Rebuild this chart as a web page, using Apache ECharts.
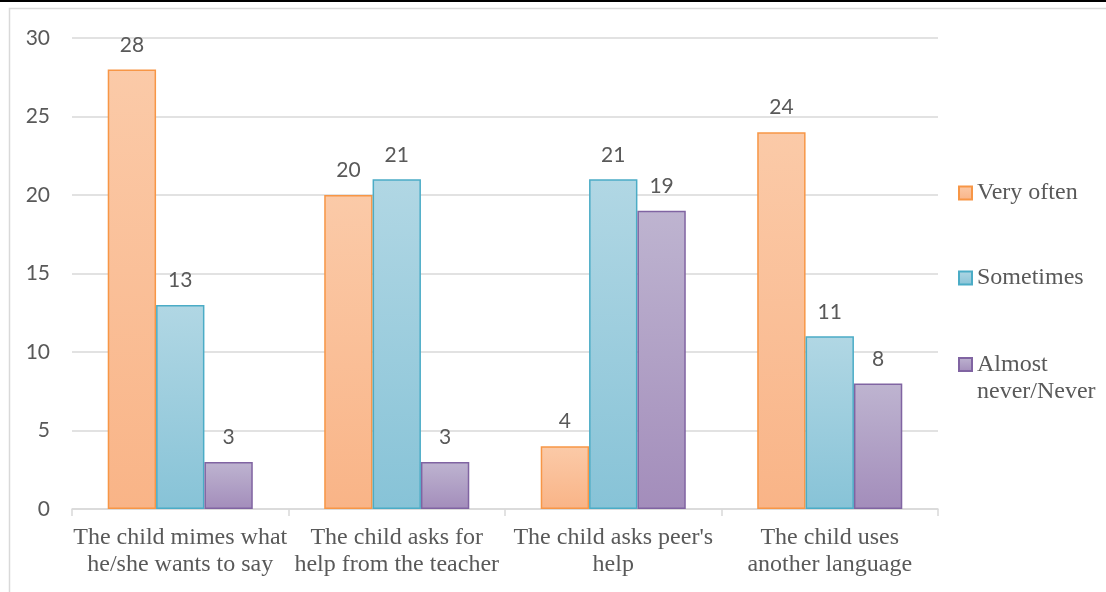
<!DOCTYPE html>
<html>
<head>
<meta charset="utf-8">
<script src="https://cdn.jsdelivr.net/npm/echarts@6/dist/echarts.min.js"></script>
<style>
  html, body { margin: 0; padding: 0; background: #ffffff; }
  #chart { width: 1106px; height: 592px; }
</style>
</head>
<body>
<div id="chart"></div>
<script>
// Categories (x axis), two-line labels
const categories = [
  "The child mimes what\nhe/she wants to say",
  "The child asks for\nhelp from the teacher",
  "The child asks peer's\nhelp",
  "The child uses\nanother language"
];

// Responses per category
const veryOften = [28, 20, 4, 24];
const sometimes = [13, 21, 21, 11];
const almostNever = [3, 3, 19, 8];

const seriesNames = ["Very often", "Sometimes", "Almost never/Never"];

// Value axis ticks
const yMin = 0;
const yMax = 30;
const yStep = 5;

const textGray = "#595959";
const gridGray = "#d9d9d9";

function grad(top, bottom) {
  return new echarts.graphic.LinearGradient(0, 0, 0, 1, [
    { offset: 0, color: top },
    { offset: 1, color: bottom }
  ]);
}

const palette = [
  { fill: grad("#fbcaa8", "#f9b487"), border: "#f79646" },
  { fill: grad("#b1d7e4", "#87c3d7"), border: "#4bacc6" },
  { fill: grad("#beb4d0", "#a38dbb"), border: "#8064a2" }
];

const values = [veryOften, sometimes, almostNever];

const chart = echarts.init(document.getElementById("chart"), null, { renderer: "canvas" });

const legendText = {
  fontFamily: "Liberation Serif",
  fontSize: 24,
  color: textGray,
  lineHeight: 27
};

chart.setOption({
  animation: false,
  backgroundColor: "#ffffff",
  graphic: [
    { type: "rect", shape: { x: 0, y: 0, width: 1106, height: 2 }, style: { fill: "#000000" }, silent: true },
    { type: "rect", shape: { x: 9.5, y: 8.5, width: 1110, height: 600 }, style: { fill: null, stroke: gridGray, lineWidth: 1.5 }, silent: true }
  ],
  grid: { left: 72, right: 168, top: 38, bottom: 83, containLabel: false },
  legend: [
    {
      data: [seriesNames[0], seriesNames[1]],
      orient: "vertical",
      left: 958,
      top: 179.5,
      padding: 0,
      itemGap: 58,
      itemWidth: 13,
      itemHeight: 13,
      icon: "rect",
      selectedMode: false,
      textStyle: legendText
    },
    {
      // the marker sits beside the first line of the wrapped name
      data: [seriesNames[2]],
      orient: "vertical",
      left: 958,
      top: 324,
      padding: 0,
      itemWidth: 13,
      itemHeight: 13,
      icon: "rect",
      selectedMode: false,
      formatter: function () { return " \nAlmost\nnever/Never"; },
      textStyle: legendText
    }
  ],
  xAxis: {
    type: "category",
    data: categories,
    boundaryGap: true,
    axisLine: { show: true, lineStyle: { color: gridGray, width: 1.5 } },
    axisTick: { show: true, alignWithLabel: false, interval: 0, length: 7, lineStyle: { color: gridGray, width: 1.5 } },
    axisLabel: {
      interval: 0,
      margin: 15,
      fontFamily: "Liberation Serif",
      fontSize: 24,
      lineHeight: 27,
      color: textGray
    },
    splitLine: { show: false }
  },
  yAxis: {
    type: "value",
    min: yMin,
    max: yMax,
    interval: yStep,
    axisLine: { show: false },
    axisTick: { show: false },
    axisLabel: { margin: 22, fontFamily: "Lato", fontSize: 21, color: textGray },
    splitLine: { show: true, lineStyle: { color: gridGray, width: 1.5 } }
  },
  series: seriesNames.map(function (name, i) {
    return {
      name: name,
      type: "bar",
      data: values[i],
      barGap: "0%",
      barCategoryGap: "33%",
      itemStyle: {
        color: palette[i].fill,
        borderColor: palette[i].border,
        borderWidth: 1.5
      },
      label: {
        show: true,
        position: "top",
        distance: 14,
        fontFamily: "Lato",
        fontSize: 21,
        color: textGray
      }
    };
  })
});
</script>
</body>
</html>
